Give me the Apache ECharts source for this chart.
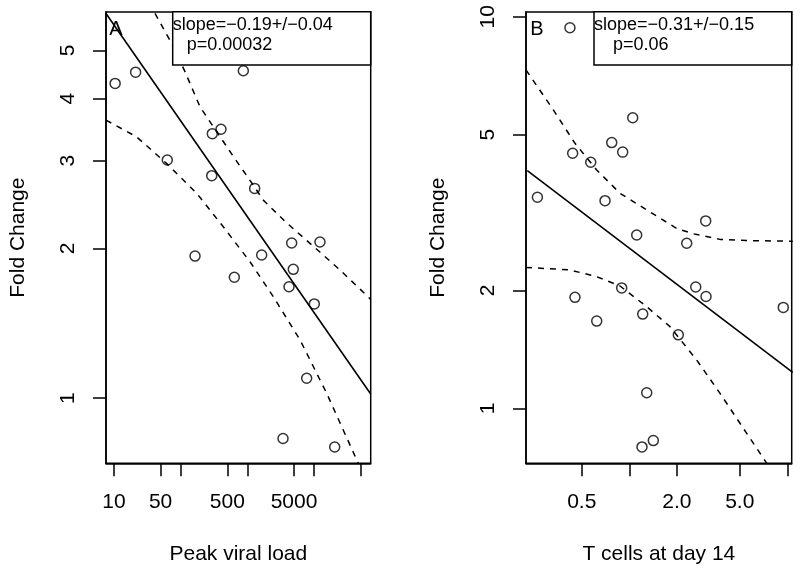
<!DOCTYPE html>
<html><head><meta charset="utf-8">
<script src="https://cdn.jsdelivr.net/npm/echarts@6/dist/echarts.min.js"></script>
<style>html,body{margin:0;padding:0;background:#fff}#c{width:800px;height:571px}</style>
</head><body><div id="c"></div>
<script>
// ---------- Panel A : Peak viral load ----------
const viralLoad   = [10.4, 21.1, 869, 402, 298, 63, 292, 1285, 4613, 12250, 164, 1637, 4875, 637, 4207, 10070, 7740, 3420, 20370];
const foldChangeA = [4.29, 4.52, 4.55, 3.47, 3.40, 3.01, 2.80, 2.64, 2.05, 2.06, 1.93, 1.94, 1.815, 1.75, 1.675, 1.547, 1.097, 0.830, 0.798];
const fitAx   = [7.59, 70590];
const fitAy   = [5.93, 1.02];
const upperAx = [41.2, 73.3, 116, 195, 615, 1226, 1731, 3882, 9727, 24430, 70590];
const upperAy = [5.93, 5.16, 4.53, 3.85, 3.06, 2.68, 2.50, 2.25, 2.02, 1.81, 1.58];
const lowerAx = [7.59, 21.9, 61.7, 174, 435, 1094, 2445, 6147, 15450, 43520, 54080];
const lowerAy = [3.62, 3.35, 2.96, 2.58, 2.21, 1.88, 1.60, 1.31, 1.023, 0.752, 0.705];
const ticksAx  = [10, 50, 100, 500, 1000, 5000, 10000, 50000];
const labelsAx = [10, 50, 500, 5000];
const ticksAy  = [1, 2, 3, 4, 5];
const legendA  = ['slope=\u22120.19+/\u22120.04', 'p=0.00032'];

// ---------- Panel B : T cells at day 14 ----------
const tCells      = [0.421, 1.051, 0.774, 0.908, 0.438, 0.570, 0.262, 0.702, 3.045, 1.114, 2.309, 2.633, 3.058, 9.43, 0.453, 0.895, 0.622, 1.216, 2.042, 1.289, 1.419, 1.203];
const foldChangeB = [9.37, 5.52, 4.77, 4.51, 4.48, 4.25, 3.46, 3.39, 3.01, 2.77, 2.64, 2.04, 1.93, 1.81, 1.92, 2.03, 1.67, 1.74, 1.54, 1.096, 0.827, 0.797];
const fitBx   = [0.2262, 10.82];
const fitBy   = [4.045, 1.236];
const upperBx = [0.2219, 0.2412, 0.3304, 0.4531, 0.6217, 0.8732, 1.289, 1.995, 2.542, 3.751, 6.094, 10.82];
const upperBy = [7.31, 6.96, 5.78, 4.75, 4.06, 3.54, 3.21, 2.88, 2.79, 2.70, 2.68, 2.67];
const lowerBx = [0.2219, 0.4213, 0.6217, 0.8732, 1.289, 1.810, 2.670, 3.751, 5.534, 7.406, 8.36];
const lowerBy = [2.29, 2.256, 2.168, 2.053, 1.817, 1.616, 1.328, 1.092, 0.863, 0.724, 0.672];
const ticksBx  = [0.5, 1, 2, 5, 10];
const labelsBx = [0.5, 2, 5];
const ticksBy  = [1, 2, 5, 10];
const legendB  = ['slope=\u22120.31+/\u22120.15', 'p=0.06'];

// axis ranges (plot box extents)
const rangeA = {xmin: 7.59, xmax: 70590, ymin: 0.740, ymax: 5.97};
const rangeB = {xmin: 0.2219, xmax: 10.66, ymin: 0.7237, ymax: 10.28};

const FONT = '"Liberation Sans", Arial, Helvetica, sans-serif';
const pairs = (xs, ys) => xs.map((x, i) => [x, ys[i]]);

function xAxisOf(idx, range, ticks, labels, name, fmt) {
  return {
    type: 'log', logBase: 10, gridIndex: idx, min: range.xmin, max: range.xmax,
    axisLine: {show: true, onZero: false, lineStyle: {color: '#000', width: 1.5}},
    axisTick: {show: true, length: 13, customValues: ticks, lineStyle: {color: '#000', width: 1.5}},
    axisLabel: {customValues: labels, margin: 28, fontSize: 21, color: '#000', fontFamily: FONT, formatter: fmt},
    splitLine: {show: false}, minorTick: {show: false}, minorSplitLine: {show: false},
    name: name, nameLocation: 'middle', nameGap: 80,
    nameTextStyle: {fontSize: 21, color: '#000', fontFamily: FONT}
  };
}
function yAxisOf(idx, range, ticks) {
  return {
    type: 'log', logBase: 10, gridIndex: idx, min: range.ymin, max: range.ymax,
    axisLine: {show: true, onZero: false, lineStyle: {color: '#000', width: 1.5}},
    axisTick: {show: true, length: 13, customValues: ticks, lineStyle: {color: '#000', width: 1.5}},
    axisLabel: {customValues: ticks, margin: 27, rotate: 90, fontSize: 21, color: '#000', fontFamily: FONT,
      formatter: v => String(Math.round(v))},
    splitLine: {show: false}, minorTick: {show: false}, minorSplitLine: {show: false},
    name: 'Fold Change', nameLocation: 'middle', nameGap: 77,
    nameTextStyle: {fontSize: 21, color: '#000', fontFamily: FONT}
  };
}
function scatterOf(idx, xs, ys) {
  return {type: 'scatter', xAxisIndex: idx, yAxisIndex: idx, data: pairs(xs, ys), symbol: 'circle', symbolSize: 10,
    itemStyle: {color: 'rgba(0,0,0,0)', borderColor: '#000', borderWidth: 1.5}, silent: true, z: 3};
}
function lineOf(idx, xs, ys, dashed) {
  return {type: 'line', xAxisIndex: idx, yAxisIndex: idx, data: pairs(xs, ys), showSymbol: false, symbol: 'none',
    clip: true, smooth: false, silent: true, z: 2,
    lineStyle: {color: '#000', width: dashed ? 1.5 : 1.6, type: dashed ? [6, 6] : 'solid'}};
}
function legendBox(left, top, width, height, lines, line2Indent) {
  return [
    {type: 'rect', z: 100, shape: {x: left, y: top, width: width, height: height},
      style: {fill: '#fff', stroke: '#000', lineWidth: 1.5}},
    {type: 'text', z: 101, x: left, y: top + 13.5,
      style: {text: lines[0], fontSize: 18, fontFamily: FONT, fill: '#000', align: 'left', verticalAlign: 'middle'}},
    {type: 'text', z: 101, x: left + line2Indent, y: top + 33.5,
      style: {text: lines[1], fontSize: 18, fontFamily: FONT, fill: '#000', align: 'left', verticalAlign: 'middle'}}
  ];
}

const chart = echarts.init(document.getElementById('c'), null, {renderer: 'canvas'});
chart.setOption({
  animation: false,
  backgroundColor: '#fff',
  grid: [
    {left: 106, top: 12, width: 264.7, height: 451.3, show: true, borderColor: '#000', borderWidth: 1.5,
      backgroundColor: 'transparent', containLabel: false, outerBoundsMode: 'none'},
    {left: 526, top: 12, width: 265.7, height: 451.3, show: true, borderColor: '#000', borderWidth: 1.5,
      backgroundColor: 'transparent', containLabel: false, outerBoundsMode: 'none'}
  ],
  xAxis: [
    xAxisOf(0, rangeA, ticksAx, labelsAx, 'Peak viral load', v => String(Math.round(v))),
    xAxisOf(1, rangeB, ticksBx, labelsBx, 'T cells at day 14', v => (Math.round(v * 10) / 10).toFixed(1))
  ],
  yAxis: [yAxisOf(0, rangeA, ticksAy), yAxisOf(1, rangeB, ticksBy)],
  series: [
    lineOf(0, fitAx, fitAy, false), lineOf(0, upperAx, upperAy, true), lineOf(0, lowerAx, lowerAy, true),
    scatterOf(0, viralLoad, foldChangeA),
    lineOf(1, fitBx, fitBy, false), lineOf(1, upperBx, upperBy, true), lineOf(1, lowerBx, lowerBy, true),
    scatterOf(1, tCells, foldChangeB)
  ],
  graphic: [].concat(
    legendBox(172.7, 11.7, 198, 53.3, legendA, 14),
    legendBox(594, 11.7, 197.7, 53.3, legendB, 19),
    [
      {type: 'text', z: 101, x: 116, y: 29, style: {text: 'A', fontSize: 20, fontFamily: FONT, fill: '#000', align: 'center', verticalAlign: 'middle'}},
      {type: 'text', z: 101, x: 537, y: 29, style: {text: 'B', fontSize: 20, fontFamily: FONT, fill: '#000', align: 'center', verticalAlign: 'middle'}}
    ]
  )
});
</script></body></html>
